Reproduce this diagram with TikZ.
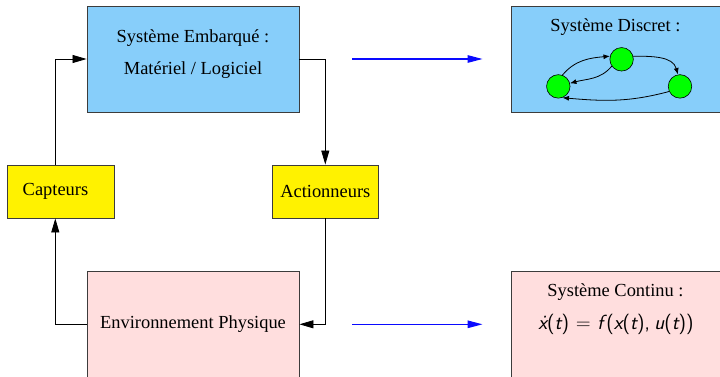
\documentclass[tikz,border=0pt]{standalone}
\usepackage{fontspec}
\setmainfont{Liberation Serif}
\usetikzlibrary{arrows.meta,calc}

\definecolor{skyfill}{RGB}{135,206,250}
\definecolor{pinkfill}{RGB}{255,222,222}
\definecolor{boxline}{RGB}{60,60,60}
\definecolor{mapblue}{RGB}{10,10,255}

\tikzset{
  blk/.style={draw=boxline, line width=0.9pt, inner sep=0pt, font=\fontsize{18.5}{22}\selectfont},
  bigbox/.style={blk, minimum width=212bp, minimum height=106bp},
  sidebox/.style={blk, minimum height=106bp},
  sensor/.style={blk, fill=yellow, minimum width=106.5bp, minimum height=53bp},
  txt/.style={inner sep=0pt, font=\fontsize{18.5}{22}\selectfont},
  eqn/.style={inner sep=0pt, font=\fontsize{20.5}{24}\sffamily},
  arr/.style={draw=black, line width=0.8pt, -{Triangle[length=14bp,width=8bp]}},
  maparr/.style={draw=mapblue, line width=1.2pt, -{Triangle[length=15bp,width=7.5bp]}},
  state/.style={circle, draw=black, line width=0.6pt, fill=green, minimum size=23.5bp, inner sep=0pt},
  trans/.style={draw=black, line width=0.8pt, -{Latex[length=6.5bp,width=5bp]}}
}
\newcommand{\vr}[1]{{\itshape #1}}

\begin{document}
\begin{tikzpicture}[x=1bp,y=1bp]
\useasboundingbox (0,0) rectangle (720,376);
\clip (0,0) rectangle (720,376);

% embedded system and physical environment
\node[bigbox, fill=skyfill] (emb) at (193,317) {};
\node[txt] (embA) at (193,338) {Système Embarqué :};
\node[txt] (embB) at (193,306) {Matériel / Logiciel};

\node[bigbox, fill=pinkfill] (env) at (193,51.7) {Environnement Physique};

% sensors and actuators
\node[sensor] (cap) at (60.7,184.5) {\hspace*{-10.4bp}Capteurs};
\node[sensor] (act) at (325.3,184.5) {Actionneurs};
\coordinate (cx) at (55.3,0);

% feedback loop
\draw[arr] (cap.north -| cx) |- (emb.west);
\draw[arr] (emb.east) -| (act.north);
\draw[arr] (act.south) |- (env.east);
\draw[arr] (env.west) -| (cap.south -| cx);

% discrete and continuous models
\node[sidebox, fill=skyfill, minimum width=220bp] (dis) at (621,317) {};
\node[txt] (disT) at (615.5,349) {Système Discret :};

\node[sidebox, fill=pinkfill, minimum width=220bp] (con) at (621,51.7) {};
\node[txt] (conT) at (615.5,84) {Système Continu :};
\node[eqn] (conE) at (616,52) {\vr{\.x}(\vr{t})\hspace{0.33em}=\hspace{0.33em}\vr{f}\hspace{0.15em}(\vr{x}(\vr{t}),\hspace{0.22em}\vr{u}(\vr{t}))};

\draw[maparr, shorten <=53bp, shorten >=28bp] (emb.east) -- (dis.west);
\draw[maparr, shorten <=53bp, shorten >=28bp] (env.east) -- (con.west);

% state graph
\node[state] (L) at (558.3,289.6) {};
\node[state] (M) at (621.6,316.7) {};
\node[state] (R) at (680,289.6) {};

\draw[trans] (L.70) to[out=50,in=185] (M.165);
\draw[trans] (M.215) to[out=230,in=15] (L.15);
\draw[trans] (M.15) to[out=0,in=105] (R.100);
\draw[trans] (R.205) to[out=195,in=-5] (L.-70);
\end{tikzpicture}
\end{document}
